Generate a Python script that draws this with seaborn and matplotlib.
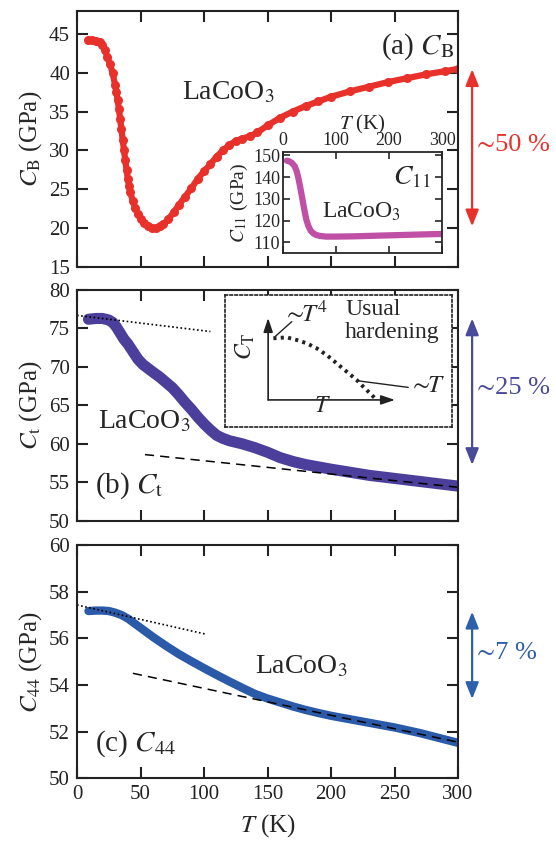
import seaborn as sns
import matplotlib.pyplot as plt

# (a) bulk modulus C_B
T_a = [9, 12, 15, 18, 20, 22, 24, 26, 28, 30, 31, 32, 33, 34, 35, 36, 37, 38, 39, 40,
       41, 42, 44, 46, 48, 50, 53, 56, 59, 62, 65, 68, 72, 76, 80, 85, 90, 95, 100, 105,
       110, 115, 120, 125, 130, 136, 142, 150, 160, 170, 180, 190, 200, 215, 230, 245,
       260, 275, 290, 300]
CB = [44.2, 44.2, 44.1, 44.0, 43.6, 42.9, 42.0, 41.1, 40.0, 38.4, 37.5, 36.5, 35.3, 34.0,
      32.7, 31.3, 30.0, 28.7, 27.5, 26.3, 25.4, 24.6, 23.4, 22.5, 21.8, 21.2, 20.6, 20.2,
      20.0, 20.0, 20.2, 20.5, 21.1, 22.0, 22.9, 24.0, 25.1, 26.3, 27.3, 28.2, 29.2, 30.0,
      30.7, 31.2, 31.5, 31.8, 32.3, 33.2, 34.2, 35.0, 35.7, 36.3, 36.9, 37.6, 38.2, 38.8,
      39.3, 39.8, 40.2, 40.5]

# inset of (a): C_11
T_in = [7, 12, 17, 22, 26, 29, 32, 35, 38, 41, 44, 48, 52, 57, 63, 70, 80, 100, 130,
        160, 190, 220, 250, 280, 300]
C11 = [147.5, 147.2, 146.4, 145.0, 142.5, 139.5, 136.0, 132.0, 128.0, 124.0, 120.5,
       117.5, 115.5, 114.2, 113.4, 113.0, 112.7, 112.7, 112.8, 113.0, 113.2, 113.4,
       113.6, 113.8, 113.9]

# (b) C_t
T_b = [9, 15, 20, 25, 28, 31, 34, 37, 40, 44, 48, 52, 56, 60, 65, 70, 75, 80, 85, 90,
       95, 100, 105, 110, 115, 120, 125, 130, 140, 150, 160, 170, 180, 190, 200, 215,
       230, 245, 260, 275, 290, 300]
Ct = [76.2, 76.3, 76.3, 76.1, 75.8, 75.2, 74.4, 73.6, 73.0, 72.0, 71.0, 70.3, 69.8, 69.3,
      68.7, 68.0, 67.3, 66.4, 65.4, 64.5, 63.5, 62.6, 61.8, 61.1, 60.7, 60.4, 60.2, 60.0,
      59.5, 58.9, 58.2, 57.7, 57.3, 57.0, 56.7, 56.3, 55.9, 55.6, 55.3, 55.0, 54.7, 54.5]

# (c) C_44
T_c = [9, 15, 20, 25, 30, 35, 40, 45, 50, 55, 60, 70, 80, 90, 100, 110, 120, 130, 140,
       150, 160, 170, 180, 190, 200, 210, 220, 230, 240, 250, 260, 270, 280, 290, 300]
C44 = [57.17, 57.19, 57.19, 57.17, 57.1, 57.0, 56.85, 56.65, 56.45, 56.25, 56.05, 55.68,
       55.33, 55.02, 54.72, 54.43, 54.15, 53.88, 53.62, 53.42, 53.25, 53.08, 52.93, 52.8,
       52.68, 52.58, 52.48, 52.38, 52.28, 52.18, 52.06, 51.94, 51.8, 51.66, 51.52]

# guide lines (end points)
dot_b_T, dot_b_C = [0, 105], [76.7, 74.6]
dash_b_T, dash_b_C = [53.5, 300], [58.6, 54.35]
dot_c_T, dot_c_C = [0, 102], [57.43, 56.17]
dash_c_T, dash_c_C = [44, 300], [54.5, 51.55]

# schematic "usual hardening" sketch (box fractions)
sk_x = [0.213, 0.272, 0.316, 0.360, 0.404, 0.448, 0.492, 0.536, 0.580, 0.609, 0.639, 0.661]
sk_y = [0.672, 0.679, 0.659, 0.634, 0.596, 0.545, 0.482, 0.419, 0.356, 0.305, 0.255, 0.217]

red, purple, blue, magenta = "#e8312b", "#4c3f9b", "#2a5aa8", "#c050a5"

sns.set_theme(style="ticks")
plt.rcParams["font.family"] = ["Liberation Serif", "STIXGeneral", "DejaVu Serif"]
plt.rcParams["mathtext.fontset"] = "stix"

fig = plt.figure(figsize=(5.56, 8.46), dpi=100)
ax_a = fig.add_axes([0.1385, 0.6848, 0.6853, 0.3026])
ax_b = fig.add_axes([0.1385, 0.3845, 0.6853, 0.2727])
ax_c = fig.add_axes([0.1385, 0.0800, 0.6853, 0.2758])


def style(ax, ylim, yticks, ylabel):
    ax.set_xlim(0, 300)
    ax.set_ylim(*ylim)
    ax.set_xticks(range(0, 301, 50))
    ax.set_yticks(yticks)
    ax.tick_params(direction="in", top=True, right=True, length=8, width=1.5,
                   labelsize=15, pad=5, colors="#222222")
    for s in ax.spines.values():
        s.set_linewidth(1.5)
        s.set_color("#222222")
    ax.set_ylabel(ylabel, fontsize=18, labelpad=4)
    ax.set_xlabel("")


# (a)
sns.lineplot(x=T_a, y=CB, ax=ax_a, color=red, lw=4.5, marker="o", markersize=6.5,
             markeredgewidth=0)
style(ax_a, (15, 48), range(15, 46, 5), r"$C_\mathrm{B}$ (GPa)")
ax_a.set_xticklabels([])
ax_a.text(297, 42.4, r"(a) $C_\mathrm{B}$", ha="right", va="baseline", fontsize=21)
ax_a.text(83, 36.6, r"LaCoO$_3$", ha="left", va="baseline", fontsize=20)

# inset of (a)
ax_i = fig.add_axes([0.509, 0.701, 0.286, 0.1194])
sns.lineplot(x=T_in, y=C11, ax=ax_i, color=magenta, lw=4.5)
ax_i.set_xlim(0, 300)
ax_i.set_ylim(105.2, 151.5)
ax_i.set_xticks([0, 100, 200, 300])
ax_i.set_yticks([110, 120, 130, 140, 150])
ax_i.xaxis.tick_top()
ax_i.xaxis.set_label_position("top")
ax_i.tick_params(direction="in", top=True, bottom=True, left=True, right=True,
                 length=5, width=1.2, labelsize=13, pad=2)
for s in ax_i.spines.values():
    s.set_linewidth(1.3)
ax_i.set_xlabel(r"$T$ (K)", fontsize=15, labelpad=2)
ax_i.set_ylabel(r"$C_{11}$ (GPa)", fontsize=14, labelpad=2)
ax_i.text(207, 136.4, r"$C_{11}$", fontsize=20, va="baseline")
ax_i.text(74, 121.4, r"LaCoO$_3$", fontsize=17, va="baseline")

# (b)
sns.lineplot(x=T_b, y=Ct, ax=ax_b, color=purple, lw=8)
sns.lineplot(x=dot_b_T, y=dot_b_C, ax=ax_b, color="black", lw=1.2, linestyle=(0, (1, 1.5)))
sns.lineplot(x=dash_b_T, y=dash_b_C, ax=ax_b, color="black", lw=1.1, linestyle=(0, (6, 4)))
style(ax_b, (50, 80), range(50, 81, 5), r"$C_\mathrm{t}$ (GPa)")
ax_b.set_xticklabels([])
ax_b.text(16.8, 62.0, r"LaCoO$_3$", ha="left", va="baseline", fontsize=20)
ax_b.text(14.2, 53.6, r"(b) $C_\mathrm{t}$", ha="left", va="baseline", fontsize=21)

# schematic box
ax_s = fig.add_axes([0.4047, 0.4953, 0.4083, 0.156])
ax_s.set_xlim(0, 1)
ax_s.set_ylim(0, 1)
ax_s.set_xticks([])
ax_s.set_yticks([])
for s in ax_s.spines.values():
    s.set_linestyle((0, (1.5, 1.5)))
    s.set_linewidth(1.2)
    s.set_color("#222222")
sns.lineplot(x=sk_x, y=sk_y, ax=ax_s, color="#222222", lw=2.8, linestyle=(0, (0.8, 1.1)),
             sort=False)
arr = dict(arrowstyle="-|>,head_length=0.6,head_width=0.2", color="#222222", lw=1.2,
           shrinkA=0, shrinkB=0, mutation_scale=14)
ax_s.annotate("", xy=(0.19, 0.826), xytext=(0.19, 0.205), arrowprops=arr)
ax_s.annotate("", xy=(0.749, 0.205), xytext=(0.19, 0.205), arrowprops=arr)
ax_s.plot([0.22, 0.294], [0.684, 0.798], color="#222222", lw=1)
ax_s.plot([0.58, 0.807], [0.351, 0.30], color="#222222", lw=1)
ax_s.text(0.255, 0.85, r"${\sim}\!\!T^4$", fontsize=18, va="center", ha="left")
ax_s.text(0.812, 0.31, r"${\sim}\!\!T$", fontsize=18, va="center", ha="left")
ax_s.text(0.529, 0.97, "Usual\nhardening", fontsize=17, va="top", ha="left",
          linespacing=1.15)
ax_s.text(0.088, 0.61, r"$C_\mathrm{T}$", fontsize=17, rotation=90, va="center", ha="center")
ax_s.text(0.43, 0.155, r"$T$", fontsize=17, va="center", ha="center")

# (c)
sns.lineplot(x=T_c, y=C44, ax=ax_c, color=blue, lw=6)
sns.lineplot(x=dot_c_T, y=dot_c_C, ax=ax_c, color="black", lw=1.2, linestyle=(0, (1, 1.5)))
sns.lineplot(x=dash_c_T, y=dash_c_C, ax=ax_c, color="black", lw=1.1, linestyle=(0, (6, 4)))
style(ax_c, (50, 60), range(50, 61, 2), r"$C_{44}$ (GPa)")
ax_c.set_xlabel(r"$T$ (K)", fontsize=18, labelpad=6)
ax_c.text(140, 54.5, r"LaCoO$_3$", ha="left", va="baseline", fontsize=20)
ax_c.text(14.2, 51.2, r"(c) $C_{44}$", ha="left", va="baseline", fontsize=21)

# percentage arrows to the right of each panel
for ax, lo, hi, ty, txt, col in [(ax_a, 20.2, 40.45, 30.7, "\u223c50 %", red),
                                 (ax_b, 57.25, 76.3, 67.2, "\u223c25 %", "#4a4a9a"),
                                 (ax_c, 53.4, 57.14, 55.37, "\u223c7 %", "#2e5faa")]:
    tr = ax.get_yaxis_transform()
    ax.annotate("", xy=(1.037, hi), xytext=(1.037, lo), xycoords=tr, textcoords=tr,
                annotation_clip=False,
                arrowprops=dict(arrowstyle="<|-|>,head_length=0.55,head_width=0.22",
                                color=col, lw=1.6, shrinkA=0, shrinkB=0,
                                mutation_scale=18))
    ax.text(1.05, ty, txt, transform=tr, color=col, fontsize=19, va="center", ha="left")

plt.savefig("out.png", dpi=100)
